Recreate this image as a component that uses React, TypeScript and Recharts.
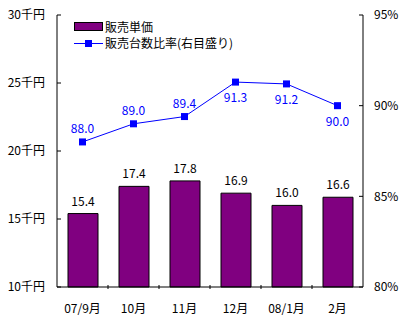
import React from "react";
import { ComposedChart, Bar, Line, XAxis, YAxis, LabelList } from "recharts";

const categories = ["07/9月", "10月", "11月", "12月", "08/1月", "2月"];
const unitPrice = [15.4, 17.4, 17.8, 16.9, 16.0, 16.6];
const ratio = [88.0, 89.0, 89.4, 91.3, 91.2, 90.0];
const leftTicks = [10, 15, 20, 25, 30];
const rightTicks = [80, 85, 90, 95];
const labelBelow = [false, false, false, true, true, true];

const data = categories.map((c, i) => ({ name: c, price: unitPrice[i], ratio: ratio[i] }));

const FONT = "'Noto Sans CJK JP', 'Noto Sans', sans-serif";
const BAND = 306 / 6;

const XTick = (props: any) => {
  const { x, y, payload, index } = props;
  return (
    <g>
      {index > 0 && (
        <line x1={x - BAND / 2} x2={x - BAND / 2} y1={y} y2={y - 4} stroke="#000" strokeWidth={1} />
      )}
      <text x={x} y={y + 24} textAnchor="middle" fontSize={12} fontFamily={FONT} fill="#000">
        {payload.value}
      </text>
    </g>
  );
};

const SquareDot = (props: any) => {
  const { cx, cy, index } = props;
  return <rect key={"d" + index} x={cx - 3.5} y={cy - 3.5} width={7} height={7} fill="#0000FF" />;
};

const RatioLabel = (props: any) => {
  const { x, y, value } = props;
  const idx = ratio.indexOf(Number(value));
  const below = labelBelow[idx];
  return (
    <text x={x} y={below ? y + 20 : y - 9} textAnchor="middle" fontSize={12} fontFamily={FONT} fill="#0000FF">
      {Number(value).toFixed(1)}
    </text>
  );
};

const PriceLabel = (props: any) => {
  const { x, y, width, value } = props;
  return (
    <text x={x + width / 2} y={y - 8} textAnchor="middle" fontSize={12} fontFamily={FONT} fill="#000">
      {Number(value).toFixed(1)}
    </text>
  );
};

const LegendBox = () => (
  <svg width={220} height={44} style={{ position: "absolute", left: 72, top: 14, display: "block" }}>
    <rect x={2.5} y={8.5} width={28} height={8} fill="#800080" stroke="#000" strokeWidth={1} />
    <text x={33} y={17.5} fontSize={12} fontFamily={FONT} fill="#000">販売単価</text>
    <line x1={2} x2={31} y1={29.5} y2={29.5} stroke="#0000FF" strokeWidth={1} />
    <rect x={13} y={26} width={7} height={7} fill="#0000FF" />
    <text x={33} y={34} fontSize={12} fontFamily={FONT} fill="#000">販売台数比率(右目盛り)</text>
  </svg>
);

export default function App() {
  return (
    <div style={{ position: "absolute", left: 0, top: 0, width: 400, height: 331, background: "#fff" }}>
      <ComposedChart width={400} height={331} data={data} margin={{ top: 15, right: 0, left: 0, bottom: 0 }} barSize={30}>
        <XAxis
          dataKey="name"
          height={44}
          tickLine={false}
          tickSize={0}
          tick={<XTick />}
          interval={0}
          stroke="#000"
          axisLine={{ stroke: "#000", strokeWidth: 1 }}
        />
        <YAxis
          yAxisId="left"
          orientation="left"
          width={57}
          domain={[10, 30]}
          ticks={leftTicks}
          tickFormatter={(v: number) => v + "千円"}
          tickSize={-4}
          tickMargin={16}
          tick={{ fontSize: 12, fontFamily: FONT, fill: "#000" }}
          stroke="#000"
          interval={0}
        />
        <YAxis
          yAxisId="right"
          orientation="right"
          width={37}
          domain={[80, 95]}
          ticks={rightTicks}
          tickFormatter={(v: number) => v + "%"}
          tickSize={-4}
          tickMargin={15}
          tick={{ fontSize: 12, fontFamily: FONT, fill: "#000" }}
          stroke="#000"
          interval={0}
        />
        <Bar yAxisId="left" dataKey="price" fill="#800080" stroke="#000" strokeWidth={1} isAnimationActive={false}>
          <LabelList dataKey="price" content={<PriceLabel />} />
        </Bar>
        <Line
          yAxisId="right"
          dataKey="ratio"
          stroke="#0000FF"
          strokeWidth={1}
          dot={SquareDot}
          activeDot={false}
          isAnimationActive={false}
        >
          <LabelList dataKey="ratio" content={<RatioLabel />} />
        </Line>
      </ComposedChart>
      <LegendBox />
    </div>
  );
}
